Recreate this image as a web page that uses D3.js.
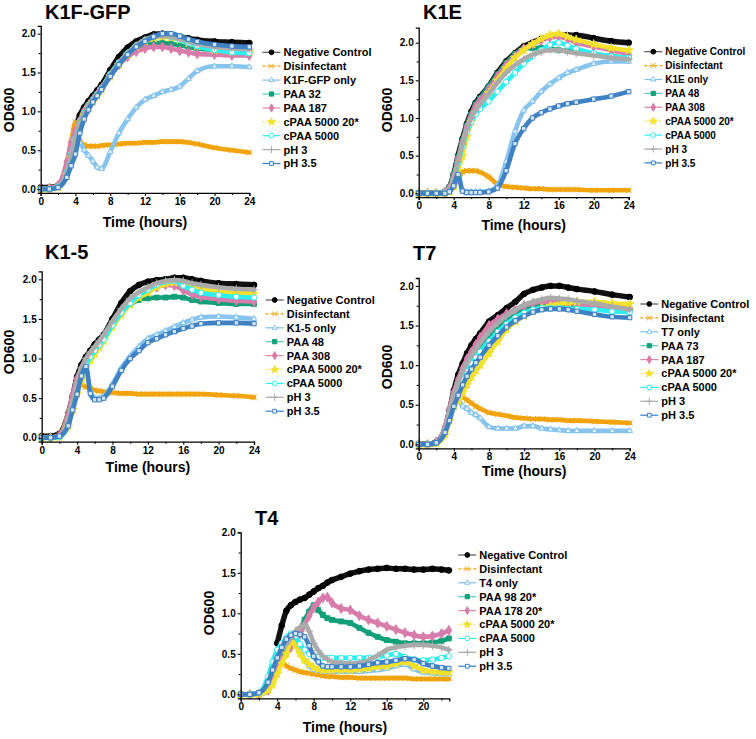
<!DOCTYPE html>
<html><head><meta charset="utf-8">
<script src="https://cdn.jsdelivr.net/npm/d3@7"></script>
<style>
body{margin:0;background:#fff;}
svg{display:block;font-family:"Liberation Sans",Arial,sans-serif;}
</style></head>
<body>
<svg id="chart" width="756" height="739"></svg>
<script>
// ---------------- DATA ----------------
const hours24 = [0,1,2,3,3.5,4,4.5,5,5.5,6,6.5,7,8,9,10,11,12,13,14,15,16,17,18,20,22,24];
const hoursT4 = [0,1,2,3,3.5,4,4.5,5,5.5,6,6.5,7,7.5,8,8.5,9,9.5,10,11,12,13,14,15,16,17,18,19,20,21,22,22.8];

const labelsK1F = ["Negative Control","Disinfectant","K1F-GFP only","PAA 32","PAA 187","cPAA 5000 20*","cPAA 5000","pH 3","pH 3.5"];
const labelsK1E = ["Negative Control","Disinfectant","K1E only","PAA 48","PAA 308","cPAA 5000 20*","cPAA 5000","pH 3","pH 3.5"];
const labelsK15 = ["Negative Control","Disinfectant","K1-5 only","PAA 48","PAA 308","cPAA 5000 20*","cPAA 5000","pH 3","pH 3.5"];
const labelsT7  = ["Negative Control","Disinfectant","T7 only","PAA 73","PAA 187","cPAA 5000 20*","cPAA 5000","pH 3","pH 3.5"];
const labelsT4  = ["Negative Control","Disinfectant","T4 only","PAA 98 20*","PAA 178 20*","cPAA 5000 20*","cPAA 5000","pH 3","pH 3.5"];

const valuesK1F = [
 [0.02,0.02,0.04,0.28,0.52,0.78,0.95,1.05,1.13,1.2,1.27,1.34,1.53,1.7,1.82,1.9,1.95,1.99,2.0,1.99,1.96,1.94,1.92,1.9,1.89,1.88],
 [0.0,0.0,0.02,0.3,0.6,0.86,0.62,0.57,0.55,0.55,0.55,0.56,0.57,0.58,0.59,0.59,0.6,0.6,0.61,0.61,0.61,0.6,0.58,0.53,0.5,0.47],
 [0.0,0.0,0.03,0.2,0.4,0.55,0.6,0.5,0.43,0.36,0.28,0.26,0.48,0.72,0.9,1.05,1.15,1.2,1.25,1.28,1.32,1.42,1.52,1.58,1.58,1.57],
 [0.0,0.0,0.04,0.25,0.5,0.7,0.88,1.0,1.08,1.15,1.22,1.3,1.47,1.62,1.74,1.82,1.86,1.88,1.88,1.87,1.85,1.83,1.81,1.79,1.78,1.77],
 [0.0,0.01,0.05,0.35,0.6,0.75,0.88,1.0,1.08,1.15,1.22,1.3,1.46,1.6,1.7,1.77,1.81,1.83,1.83,1.81,1.78,1.76,1.74,1.73,1.72,1.72],
 [0.0,0.0,0.02,0.18,0.4,0.62,0.8,0.95,1.05,1.12,1.2,1.28,1.45,1.6,1.73,1.83,1.9,1.94,1.96,1.95,1.92,1.88,1.84,1.79,1.77,1.76],
 [0.0,0.0,0.03,0.22,0.45,0.65,0.85,0.98,1.08,1.15,1.22,1.3,1.48,1.63,1.75,1.85,1.92,1.96,1.98,1.96,1.92,1.88,1.84,1.79,1.76,1.75],
 [0.0,0.0,0.03,0.22,0.45,0.65,0.85,0.98,1.08,1.15,1.22,1.3,1.47,1.62,1.75,1.85,1.92,1.96,1.97,1.96,1.93,1.9,1.87,1.83,1.81,1.8],
 [0.0,0.0,0.02,0.15,0.3,0.45,0.72,0.9,1.02,1.12,1.2,1.28,1.45,1.6,1.73,1.83,1.9,1.96,2.0,2.0,1.97,1.93,1.9,1.86,1.84,1.83]
];
const valuesK1E = [
 [0.0,0.0,0.0,0.02,0.08,0.25,0.5,0.72,0.92,1.08,1.2,1.28,1.42,1.6,1.75,1.86,1.95,2.0,2.05,2.08,2.1,2.1,2.1,2.06,2.02,2.0],
 [0.0,0.0,0.0,0.0,0.02,0.08,0.2,0.28,0.3,0.3,0.3,0.28,0.22,0.12,0.09,0.08,0.07,0.06,0.06,0.05,0.05,0.05,0.05,0.04,0.04,0.04],
 [0.0,0.0,0.0,0.0,0.02,0.1,0.25,0.05,0.02,0.02,0.02,0.02,0.03,0.1,0.42,0.82,1.1,1.22,1.35,1.45,1.53,1.6,1.64,1.72,1.75,1.75],
 [0.0,0.0,0.0,0.02,0.08,0.25,0.48,0.7,0.9,1.05,1.18,1.26,1.42,1.58,1.73,1.85,1.92,1.93,1.93,1.92,1.9,1.89,1.88,1.85,1.82,1.8],
 [0.0,0.0,0.0,0.02,0.07,0.22,0.45,0.68,0.88,1.02,1.15,1.23,1.38,1.55,1.7,1.82,1.92,1.98,2.03,2.07,2.08,2.05,2.0,1.95,1.9,1.85],
 [0.0,0.0,0.0,0.0,0.02,0.1,0.3,0.5,0.75,0.95,1.08,1.15,1.33,1.5,1.66,1.8,1.9,1.98,2.05,2.1,2.12,2.08,2.04,1.98,1.93,1.9],
 [0.0,0.0,0.0,0.01,0.05,0.18,0.4,0.62,0.82,0.95,1.05,1.12,1.22,1.35,1.48,1.6,1.72,1.82,1.9,1.97,2.0,1.96,1.92,1.86,1.82,1.8],
 [0.0,0.0,0.0,0.01,0.06,0.2,0.42,0.65,0.85,1.0,1.1,1.18,1.32,1.47,1.6,1.7,1.78,1.84,1.88,1.9,1.9,1.88,1.86,1.83,1.8,1.78],
 [0.0,0.0,0.0,0.0,0.02,0.1,0.25,0.03,0.01,0.01,0.01,0.01,0.02,0.07,0.3,0.66,0.86,1.0,1.07,1.12,1.16,1.19,1.21,1.25,1.29,1.35]
];
const valuesK15 = [
 [0.02,0.02,0.05,0.3,0.52,0.77,0.92,1.02,1.1,1.18,1.24,1.3,1.5,1.7,1.85,1.93,1.97,1.99,2.0,2.02,2.02,2.0,1.98,1.95,1.94,1.93],
 [0.0,0.0,0.03,0.3,0.5,0.7,0.68,0.64,0.62,0.6,0.59,0.58,0.57,0.56,0.56,0.55,0.55,0.55,0.55,0.55,0.55,0.55,0.55,0.54,0.53,0.51],
 [0.0,0.0,0.02,0.2,0.4,0.6,0.78,0.88,0.6,0.5,0.5,0.52,0.68,0.88,1.03,1.15,1.25,1.3,1.35,1.4,1.45,1.49,1.52,1.53,1.52,1.5],
 [0.0,0.0,0.02,0.25,0.45,0.7,0.85,0.98,1.06,1.13,1.2,1.27,1.45,1.58,1.68,1.74,1.76,1.77,1.77,1.78,1.77,1.74,1.72,1.7,1.69,1.69],
 [0.0,0.0,0.03,0.3,0.55,0.75,0.88,0.98,1.05,1.12,1.2,1.27,1.45,1.6,1.72,1.8,1.86,1.9,1.93,1.92,1.86,1.81,1.78,1.75,1.73,1.72],
 [0.0,0.0,0.01,0.15,0.35,0.55,0.72,0.88,0.98,1.06,1.14,1.22,1.4,1.55,1.68,1.77,1.83,1.9,1.94,1.96,1.95,1.92,1.88,1.84,1.83,1.82],
 [0.0,0.0,0.01,0.18,0.4,0.6,0.78,0.92,1.02,1.1,1.17,1.24,1.42,1.58,1.7,1.8,1.87,1.93,1.97,1.98,1.92,1.87,1.83,1.8,1.78,1.77],
 [0.0,0.0,0.02,0.25,0.48,0.7,0.88,1.0,1.08,1.15,1.22,1.3,1.47,1.63,1.76,1.84,1.9,1.95,1.98,1.99,1.98,1.95,1.93,1.9,1.88,1.87],
 [0.0,0.0,0.02,0.15,0.35,0.55,0.78,0.9,0.56,0.48,0.48,0.5,0.65,0.85,1.0,1.1,1.2,1.25,1.3,1.34,1.38,1.41,1.44,1.45,1.45,1.44]
];
const valuesT7 = [
 [0.0,0.0,0.03,0.2,0.42,0.68,0.88,1.02,1.15,1.25,1.33,1.4,1.55,1.63,1.72,1.8,1.9,1.95,1.98,2.0,2.0,1.98,1.96,1.93,1.89,1.86],
 [0.0,0.0,0.02,0.2,0.42,0.62,0.62,0.6,0.56,0.52,0.48,0.45,0.4,0.38,0.36,0.34,0.33,0.32,0.32,0.31,0.31,0.3,0.3,0.29,0.28,0.27],
 [0.0,0.0,0.02,0.2,0.4,0.55,0.55,0.48,0.45,0.4,0.37,0.33,0.22,0.2,0.2,0.2,0.23,0.23,0.2,0.19,0.18,0.17,0.17,0.17,0.17,0.17],
 [0.0,0.0,0.02,0.18,0.4,0.6,0.75,0.88,1.0,1.1,1.18,1.25,1.38,1.48,1.57,1.65,1.7,1.73,1.75,1.75,1.75,1.74,1.74,1.72,1.71,1.7],
 [0.0,0.0,0.03,0.22,0.45,0.66,0.82,0.96,1.08,1.17,1.26,1.35,1.5,1.58,1.65,1.7,1.75,1.78,1.8,1.8,1.8,1.79,1.77,1.75,1.73,1.72],
 [0.0,0.0,0.01,0.12,0.3,0.48,0.55,0.65,0.75,0.85,0.93,1.0,1.15,1.3,1.45,1.55,1.62,1.68,1.72,1.75,1.77,1.79,1.8,1.8,1.78,1.77],
 [0.0,0.0,0.02,0.18,0.38,0.55,0.7,0.82,0.92,1.02,1.1,1.17,1.3,1.42,1.52,1.6,1.66,1.7,1.72,1.72,1.72,1.71,1.71,1.7,1.68,1.67],
 [0.0,0.0,0.02,0.2,0.42,0.62,0.78,0.92,1.03,1.12,1.2,1.28,1.42,1.53,1.62,1.7,1.76,1.8,1.83,1.85,1.84,1.83,1.81,1.78,1.74,1.7],
 [0.0,0.0,0.02,0.15,0.3,0.48,0.62,0.75,0.86,0.95,1.03,1.1,1.25,1.37,1.48,1.56,1.62,1.67,1.7,1.71,1.71,1.7,1.68,1.64,1.61,1.6]
];
const valuesT4 = [
 [null,null,null,null,null,0.63,0.85,1.03,1.1,1.14,1.17,1.19,1.23,1.27,1.31,1.34,1.38,1.41,1.45,1.49,1.52,1.54,1.55,1.56,1.55,1.55,1.54,1.54,1.55,1.54,1.53],
 [0.0,0.0,0.02,0.15,0.3,0.45,0.4,0.35,0.32,0.3,0.28,0.27,0.26,0.25,0.24,0.23,0.22,0.22,0.21,0.21,0.2,0.2,0.2,0.2,0.2,0.2,0.19,0.19,0.19,0.19,0.19],
 [0.0,0.0,0.02,0.2,0.38,0.55,0.58,0.6,0.63,0.65,0.55,0.42,0.35,0.3,0.29,0.28,0.28,0.28,0.28,0.28,0.28,0.29,0.3,0.32,0.35,0.37,0.31,0.27,0.26,0.25,0.25],
 [0.0,0.0,0.0,0.05,0.15,0.3,0.45,0.55,0.62,0.7,0.79,0.92,1.02,1.1,1.04,0.98,0.94,0.92,0.9,0.88,0.82,0.76,0.71,0.67,0.65,0.63,0.63,0.63,0.64,0.66,0.69],
 [0.0,0.0,0.0,0.05,0.15,0.3,0.42,0.5,0.58,0.65,0.74,0.86,0.97,1.07,1.14,1.19,1.2,1.13,1.06,1.04,0.97,0.92,0.88,0.84,0.8,0.76,0.73,0.71,0.72,0.75,0.79],
 [0.0,0.0,0.0,0.05,0.12,0.25,0.38,0.5,0.65,0.6,0.5,0.42,0.37,0.33,0.31,0.3,0.3,0.3,0.3,0.3,0.31,0.32,0.34,0.35,0.38,0.4,0.35,0.3,0.28,0.27,0.27],
 [0.0,0.0,0.02,0.22,0.4,0.55,0.63,0.7,0.75,0.72,0.62,0.55,0.5,0.47,0.46,0.45,0.45,0.45,0.45,0.45,0.45,0.45,0.46,0.48,0.5,0.46,0.43,0.42,0.43,0.45,0.47],
 [0.0,0.0,0.02,0.15,0.3,0.45,0.55,0.62,0.7,0.78,0.83,0.86,0.78,0.63,0.54,0.47,0.43,0.4,0.39,0.38,0.39,0.42,0.48,0.55,0.58,0.6,0.61,0.61,0.6,0.58,0.55],
 [0.0,0.0,0.02,0.15,0.3,0.45,0.58,0.68,0.73,0.75,0.74,0.71,0.6,0.47,0.4,0.35,0.34,0.34,0.34,0.34,0.35,0.37,0.39,0.4,0.42,0.44,0.43,0.38,0.35,0.33,0.32]
];

const xTicksMajor24 = [0,4,8,12,16,20,24];
const xTicksMajorT4 = [0,4,8,12,16,20];
const yTicksMajor = [0,0.5,1.0,1.5,2.0];

// ---------------- STYLE ----------------
const styles = [
  {color:"#000000", line:"#111111", legLine:"#555", sym:d3.symbolCircle, size:26, fill:"#000000"},
  {color:"#F0A30A", line:"#F0A30A", legLine:"#F0A30A", sym:d3.symbolTimes, size:24, fill:"none", dash:"3,2"},
  {color:"#7EC0EE", line:"#86C4EE", legLine:"#7EC0EE", sym:d3.symbolTriangle2, size:24, fill:"#e4f2fc"},
  {color:"#12A07A", line:"#12A07A", legLine:"#55C6C0", sym:d3.symbolSquare, size:24, fill:"#12A07A"},
  {color:"#D77CAB", line:"#D77CAB", legLine:"#E08A9A", sym:d3.symbolDiamond, size:28, fill:"#D77CAB"},
  {color:"#F2E02A", line:"#F5E22E", legLine:"#F5E22E", sym:d3.symbolStar, size:24, fill:"#F2E02A", dash:"1.5,1.5"},
  {color:"#28EEEE", line:"#2CF0F0", legLine:"#2CF0F0", sym:d3.symbolCircle, size:24, fill:"#ffffff"},
  {color:"#A9A9A9", line:"#ABABAB", legLine:"#A9A9A9", sym:d3.symbolPlus, size:24, fill:"none"},
  {color:"#3A7EC2", line:"#3F82C4", legLine:"#3A7EC2", sym:d3.symbolSquare2, size:24, fill:"#d4e5f5"}
];

const panels = [
  {title:"K1F-GFP", labels:labelsK1F, values:valuesK1F, t:hours24, xMax:24, xTicks:xTicksMajor24,
   xr:[40.7,249.3], yd:[-0.05,2.1], yr:[192.9,25.9], titleXY:[45,19], legX:283.5, legY:52.3, legFont:11,
   odXY:[9,110], timeY:227},
  {title:"K1E", labels:labelsK1E, values:valuesK1E, t:hours24, xMax:24, xTicks:xTicksMajor24,
   xr:[418.7,628.7], yd:[-0.05,2.2], yr:[197.1,27.6], titleXY:[423,19], legX:665.3, legY:51.7, legFont:10,
   odXY:[387,110], timeY:230},
  {title:"K1-5", labels:labelsK15, values:valuesK15, t:hours24, xMax:24, xTicks:xTicksMajor24,
   xr:[41.7,254], yd:[-0.05,2.1], yr:[441.7,271.4], titleXY:[45,259], legX:286.7, legY:300, legFont:11,
   odXY:[9,352], timeY:472},
  {title:"T7", labels:labelsT7, values:valuesT7, t:hours24, xMax:24, xTicks:xTicksMajor24,
   xr:[418.7,629.7], yd:[-0.05,2.1], yr:[448.3,278], titleXY:[413,260], legX:661.3, legY:304, legFont:11,
   odXY:[387,367], timeY:476},
  {title:"T4", labels:labelsT4, values:valuesT4, t:hoursT4, xMax:22.85, xTicks:xTicksMajorT4,
   xr:[240.7,449.3], yd:[-0.05,2.0], yr:[698.4,532.3], titleXY:[255,525], legX:479.3, legY:555, legFont:11,
   odXY:[209,613], timeY:732}
];

const svg = d3.select("#chart");

panels.forEach(p => {
  const g = svg.append("g");
  const x = d3.scaleLinear().domain([0, p.xMax]).range(p.xr);
  const y = d3.scaleLinear().domain(p.yd).range(p.yr);

  const line = d3.line()
    .defined(d => d[1] !== null)
    .x(d => x(d[0])).y(d => y(d[1]))
    .curve(d3.curveMonotoneX);

  p.values.forEach((vals, i) => {
    const st = styles[i];
    const pts = vals.map((v, k) => [p.t[k], v]);
    g.append("path").datum(pts)
      .attr("d", line)
      .attr("fill", "none")
      .attr("stroke", st.line)
      .attr("stroke-width", i === 0 ? 5.5 : 4.6)
      .attr("stroke-linejoin", "round")
      .attr("stroke-linecap", "round");
    g.append("g").selectAll("path")
      .data(pts.filter(d => d[1] !== null))
      .join("path")
      .attr("transform", d => `translate(${x(d[0])},${y(d[1])})`)
      .attr("d", d3.symbol(st.sym, st.size))
      .attr("fill", st.fill)
      .attr("stroke", st.color)
      .attr("stroke-width", 1);
  });

  // axes
  const xMinor = d3.range(2, p.xMax, 4);
  const yMinor = [0.25,0.75,1.25,1.75];
  const axX = d3.axisBottom(x).tickValues(p.xTicks).tickSize(3).tickPadding(2).tickFormat(d3.format("d"));
  const axXm = d3.axisBottom(x).tickValues(xMinor).tickSize(2).tickFormat("");
  const axY = d3.axisLeft(y).tickValues(yTicksMajor).tickSize(3).tickPadding(2).tickFormat(d3.format(".1f"));
  const axYm = d3.axisLeft(y).tickValues(yMinor).tickSize(2).tickFormat("");

  const bottomY = y(p.yd[0]);
  const leftX = x(0);
  [axX, axXm].forEach((a, j) => {
    const ag = g.append("g").attr("transform", `translate(0,${bottomY})`).call(a);
    ag.select(".domain").attr("stroke-width", 1.3).attr("stroke", "#000");
    if (j === 1) ag.select(".domain").remove();
    ag.selectAll("line").attr("stroke-width", 1.1);
    ag.selectAll("text").attr("font-size", 10).attr("font-weight", "bold").attr("fill", "#000")
      .attr("font-family", "Liberation Sans, Arial, sans-serif");
  });
  [axY, axYm].forEach((a, j) => {
    const ag = g.append("g").attr("transform", `translate(${leftX},0)`).call(a);
    ag.select(".domain").attr("stroke-width", 1.3).attr("stroke", "#000");
    if (j === 1) ag.select(".domain").remove();
    ag.selectAll("line").attr("stroke-width", 1.1);
    ag.selectAll("text").attr("font-size", 10).attr("font-weight", "bold").attr("fill", "#000")
      .attr("font-family", "Liberation Sans, Arial, sans-serif");
  });

  // title
  g.append("text").attr("x", p.titleXY[0]).attr("y", p.titleXY[1])
    .attr("font-size", 20).attr("font-weight", "bold").text(p.title);

  // axis titles
  g.append("text").attr("x", (p.xr[0] + p.xr[1]) / 2).attr("y", p.timeY)
    .attr("text-anchor", "middle").attr("font-size", 14).attr("font-weight", "bold").text("Time (hours)");
  g.append("text").attr("transform", `translate(${p.odXY[0] + 5},${p.odXY[1]}) rotate(-90)`)
    .attr("text-anchor", "middle").attr("font-size", 14).attr("font-weight", "bold").text("OD600");

  // legend
  p.labels.forEach((lab, i) => {
    const st = styles[i];
    const ly = p.legY + i * 13.9;
    const lg = g.append("g");
    lg.append("line").attr("x1", p.legX - 21).attr("x2", p.legX - 3).attr("y1", ly).attr("y2", ly)
      .attr("stroke", st.legLine).attr("stroke-width", 1.2)
      .attr("stroke-dasharray", st.dash || null);
    lg.append("path").attr("transform", `translate(${p.legX - 12},${ly})`)
      .attr("d", d3.symbol(st.sym, 18))
      .attr("fill", st.fill === "#d4e5f5" || st.fill === "#e4f2fc" ? "#fff" : st.fill)
      .attr("stroke", st.color).attr("stroke-width", 1);
    lg.append("text").attr("x", p.legX).attr("y", ly).attr("dy", "0.36em")
      .attr("font-size", p.legFont).attr("font-weight", "bold").text(lab);
  });
});
</script>
</body></html>
